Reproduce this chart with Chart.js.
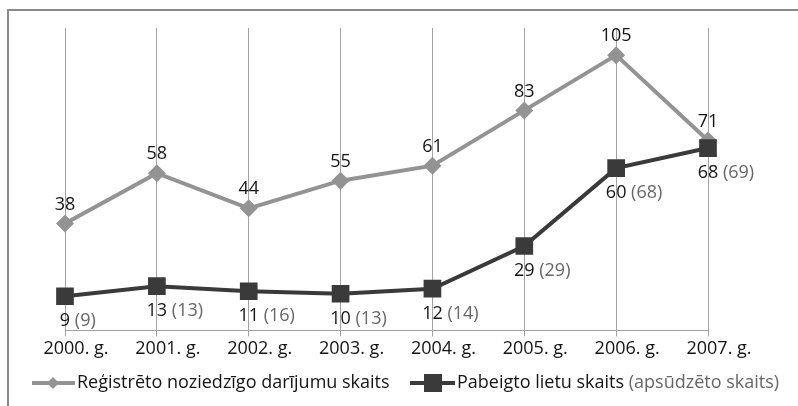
<!DOCTYPE html>
<html>
<head>
<meta charset="utf-8">
<script src="https://cdn.jsdelivr.net/npm/chart.js@4/dist/chart.umd.min.js"></script>
<style>
  html, body { margin: 0; padding: 0; background: #fff; }
  #wrap { width: 798px; height: 406px; }
</style>
</head>
<body>
<div id="wrap"><canvas id="chart" width="798" height="406"></canvas></div>
<script>
const years = ["2000. g.", "2001. g.", "2002. g.", "2003. g.", "2004. g.", "2005. g.", "2006. g.", "2007. g."];
const registered = [38, 58, 44, 55, 61, 83, 105, 71];
const finished = [9, 13, 11, 10, 12, 29, 60, 68];
const accused = [9, 13, 16, 13, 14, 29, 68, 69];

const registeredLabel = "Reģistrēto noziedzīgo darījumu skaits";
const finishedLabel = "Pabeigto lietu skaits";
const accusedLabel = "(apsūdzēto skaits)";

const FONT = "'Open Sans', 'Noto Sans', sans-serif";
const FONT_SIZE = 18;
const grayColor = "#939393";
const darkColor = "#3a3a3a";
const textColor = "#141414";
const parenColor = "#666666";

// Frame round the chart (top and left edges only are in the picture)
const framePlugin = {
  id: "frame",
  beforeDraw(chart) {
    const ctx = chart.ctx;
    ctx.save();
    ctx.strokeStyle = "#8a8a8a";
    ctx.lineWidth = 2;
    ctx.beginPath();
    ctx.moveTo(8, 406);
    ctx.lineTo(8, 10);
    ctx.lineTo(798, 10);
    ctx.stroke();
    ctx.restore();
  },
};

// Value labels
const labelPlugin = {
  id: "valueLabels",
  afterDatasetsDraw(chart) {
    const ctx = chart.ctx;
    ctx.save();
    ctx.font = FONT_SIZE + "px " + FONT;
    ctx.textBaseline = "middle";

    chart.getDatasetMeta(0).data.forEach((pt, i) => {
      ctx.fillStyle = textColor;
      ctx.textAlign = "center";
      ctx.fillText(String(registered[i]), pt.x, pt.y - 19);
    });

    chart.getDatasetMeta(1).data.forEach((pt, i) => {
      const num = String(finished[i]);
      const w = ctx.measureText(num).width;
      ctx.textAlign = "left";
      ctx.fillStyle = textColor;
      ctx.fillText(num, pt.x - w / 2, pt.y + 25);
      ctx.fillStyle = parenColor;
      ctx.fillText(" (" + accused[i] + ")", pt.x + w / 2, pt.y + 25);
    });
    ctx.restore();
  },
};

// Legend with two-coloured text on the second item
const legendPlugin = {
  id: "customLegend",
  afterDraw(chart) {
    const ctx = chart.ctx;
    const y = 383;
    ctx.save();
    ctx.font = FONT_SIZE + "px " + FONT;
    ctx.textBaseline = "middle";
    ctx.textAlign = "left";

    ctx.strokeStyle = grayColor;
    ctx.lineWidth = 4;
    ctx.beginPath();
    ctx.moveTo(32, y);
    ctx.lineTo(75, y);
    ctx.stroke();
    ctx.fillStyle = grayColor;
    ctx.beginPath();
    ctx.moveTo(53, y - 6);
    ctx.lineTo(59, y);
    ctx.lineTo(53, y + 6);
    ctx.lineTo(47, y);
    ctx.closePath();
    ctx.fill();
    ctx.fillStyle = textColor;
    ctx.fillText(registeredLabel, 77, y);

    ctx.strokeStyle = darkColor;
    ctx.beginPath();
    ctx.moveTo(410, y);
    ctx.lineTo(455, y);
    ctx.stroke();
    ctx.fillStyle = darkColor;
    ctx.fillRect(424, y - 9, 18, 18);
    ctx.fillStyle = textColor;
    ctx.fillText(finishedLabel, 457, y);
    const w = ctx.measureText(finishedLabel + " ").width;
    ctx.fillStyle = parenColor;
    ctx.fillText(accusedLabel, 457 + w, y);
    ctx.restore();
  },
};

new Chart(document.getElementById("chart"), {
  type: "line",
  data: {
    labels: years,
    datasets: [
      {
        label: registeredLabel,
        data: registered,
        borderColor: grayColor,
        backgroundColor: grayColor,
        borderWidth: 4,
        pointStyle: "rectRot",
        pointRadius: 9,
        pointBorderWidth: 0,
        tension: 0,
        order: 2,
      },
      {
        label: finishedLabel,
        data: finished,
        borderColor: darkColor,
        backgroundColor: darkColor,
        borderWidth: 4,
        pointStyle: "rect",
        pointRadius: 12.5,
        pointBorderWidth: 0,
        tension: 0,
        order: 1,
      },
    ],
  },
  options: {
    responsive: false,
    animation: false,
    layout: { padding: { left: 65, right: 90, top: 28, bottom: 44 } },
    plugins: {
      legend: { display: false },
      tooltip: { enabled: false },
    },
    scales: {
      x: {
        offset: false,
        grid: { color: "#a2a2a2", lineWidth: 1, tickLength: 6 },
        border: { color: "#a2a2a2", width: 1 },
        ticks: {
          color: textColor,
          font: { family: FONT, size: FONT_SIZE },
          padding: 2,
          labelOffset: 11,
          maxRotation: 0,
          autoSkip: false,
        },
      },
      y: {
        display: false,
        min: -4.6,
        max: 115.8,
      },
    },
  },
  plugins: [framePlugin, labelPlugin, legendPlugin],
});
</script>
</body>
</html>
